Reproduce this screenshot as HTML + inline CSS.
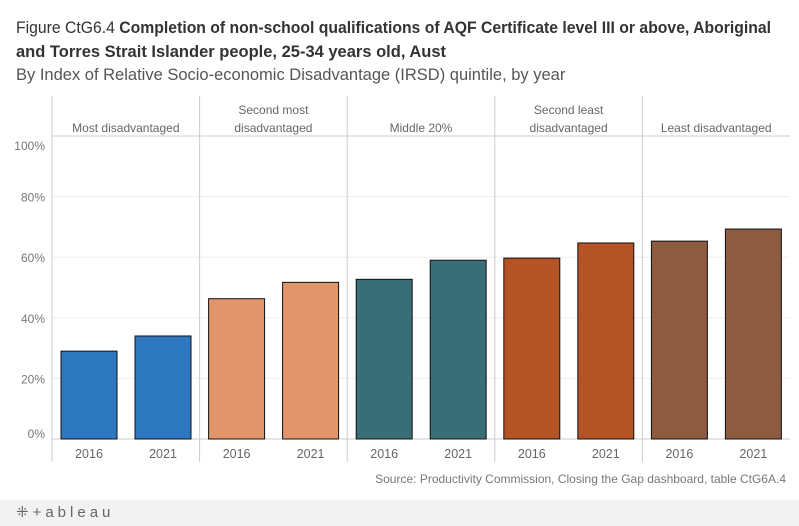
<!DOCTYPE html>
<html><head><meta charset="utf-8"><style>
body{margin:0;width:799px;height:526px;background:#fff;font-family:"Liberation Sans","DejaVu Sans",sans-serif;overflow:hidden;position:relative}
.t{position:absolute;left:16px;color:#333;font-size:16.5px;white-space:nowrap}
</style></head><body>
<div class="t" id="t1" style="top:19px;transform-origin:0 0">Figure CtG6.4 <b>Completion of non-school qualifications of AQF Certificate level III or above, Aboriginal</b></div>
<div class="t" style="top:43px"><b>and Torres Strait Islander people, 25-34 years old, Aust</b></div>
<div class="t" style="top:66px;color:#555">By Index of Relative Socio-economic Disadvantage (IRSD) quintile, by year</div>
<svg width="799" height="526" style="position:absolute;left:0;top:0" id="chart"></svg>
<div style="position:absolute;left:0;top:500px;width:799px;height:26px;background:#f2f2f2;color:#666;font-size:15px;line-height:26px;padding-left:16px;letter-spacing:4px">⁜+ableau</div>
<script>
const groups=["Most disadvantaged","Second most|disadvantaged","Middle 20%","Second least|disadvantaged","Least disadvantaged"];
const years=["2016","2021"];
const values=[29,34,46.3,51.7,52.7,59,59.7,64.7,65.3,69.3];
const colors=["#2e78c0","#e0956b","#386e75","#b35326","#8c5b40"];
const ticks=[0,20,40,60,80,100];
const t1=document.getElementById('t1');const w=t1.getBoundingClientRect().width;if(w>755)t1.style.transform='scaleX('+(755/w)+')';
const svg=document.getElementById('chart');const NS="http://www.w3.org/2000/svg";
const x0=52,pw=147.6,y0=439,y100=136;
const y=v=>y0-(v/100)*(y0-y100);
function mk(t,a,txt){const e=document.createElementNS(NS,t);for(const k in a)e.setAttribute(k,a[k]);if(txt!=null)e.textContent=txt;svg.appendChild(e);return e;}
ticks.forEach(t=>{if(t>0){const g=mk('line',{x1:x0,x2:790,y1:y(t),y2:y(t),stroke:t==100?'#ccc':'#eee'});}
let ly=y(t)+5;if(t==100)ly+=9;if(t==0)ly-=6;
const l=mk('text',{x:45,y:ly,'text-anchor':'end','font-size':12,fill:'#777'},t+'%');});
mk('line',{x1:x0,x2:x0,y1:96,y2:462,stroke:'#ccc'});
mk('line',{x1:x0,x2:790,y1:y0,y2:y0,stroke:'#ccc'});
groups.forEach((g,i)=>{const gx=x0+i*pw;
if(i>0){const s=mk('line',{x1:gx,x2:gx,y1:96,y2:462,stroke:'#ccc'});}
const parts=g.split('|');parts.forEach((p,j)=>{const h=mk('text',{x:gx+pw/2,y:132-(parts.length-1-j)*18,'text-anchor':'middle','font-size':12,fill:'#666'},p);});
years.forEach((yr,k)=>{const v=values[i*2+k];const bx=gx+9+k*74;
const b=mk('rect',{x:bx,y:y(v),width:56,height:y0-y(v),fill:colors[i],stroke:'#111','stroke-width':1});

const l=mk('text',{x:bx+28,y:458,'text-anchor':'middle','font-size':12.5,fill:'#666'},yr);});});
const s=mk('text',{x:786,y:483,'text-anchor':'end','font-size':12,fill:'#777'},'Source: Productivity Commission, Closing the Gap dashboard, table CtG6A.4');
</script>
</body></html>
